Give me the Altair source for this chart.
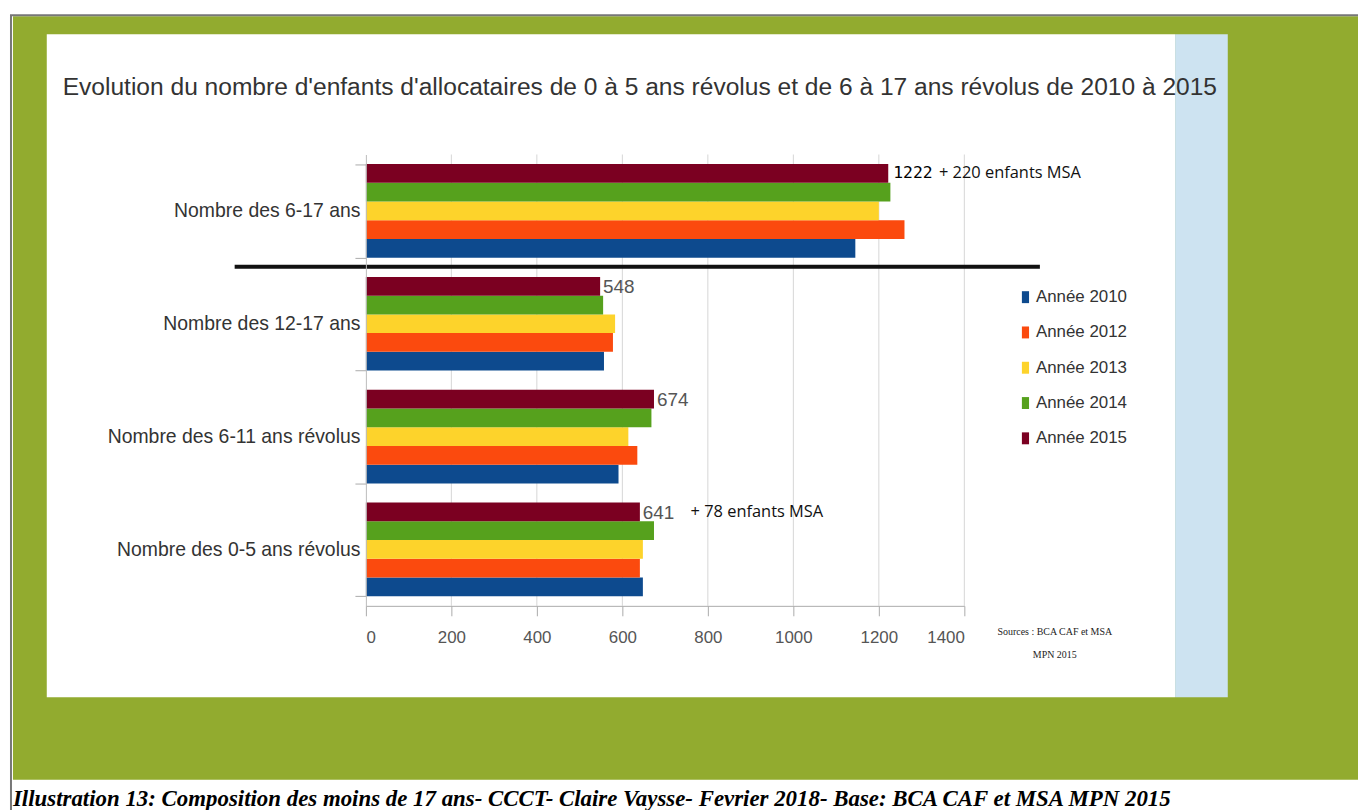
import altair as alt
import pandas as pd

# ---------------- data ----------------
groups = ["Nombre des 6-17 ans", "Nombre des 12-17 ans",
          "Nombre des 6-11 ans révolus", "Nombre des 0-5 ans révolus"]
years = ["Année 2010", "Année 2012", "Année 2013", "Année 2014", "Année 2015"]
colors = ["#0d4a8e", "#fb4a0e", "#fdd32b", "#56a11d", "#7b0021"]
v2010 = [1145, 557, 591, 648]
v2012 = [1260, 578, 635, 641]
v2013 = [1200, 583, 614, 648]
v2014 = [1227, 555, 668, 674]
v2015 = [1222, 548, 674, 641]
x_ticks = [0, 200, 400, 600, 800, 1000, 1200, 1400]

label_groups = ["Nombre des 6-17 ans", "Nombre des 12-17 ans",
                "Nombre des 6-11 ans révolus", "Nombre des 0-5 ans révolus"]
label_values = [1222, 548, 674, 641]
label_texts = ["1222", "548", "674", "641"]
label_mono = [True, False, False, False]
msa_groups = ["Nombre des 6-17 ans", "Nombre des 0-5 ans révolus"]
msa_values = [1222, 641]
msa_texts = ["+ 220 enfants MSA", "+ 78 enfants MSA"]

title_text = ("Evolution du nombre d'enfants d'allocataires de 0 à 5 ans  révolus "
              "et de 6 à 17 ans révolus de 2010 à 2015")
sources_lines = ["Sources : BCA CAF et MSA", "MPN 2015"]
caption_text = ("Illustration 13: Composition des moins de 17 ans- CCCT- Claire Vaysse- "
                "Fevrier 2018- Base: BCA CAF et MSA MPN 2015")

# ---------------- tables ----------------
series = [v2010, v2012, v2013, v2014, v2015]
rows = []
for yi, yname in enumerate(years):
    for gi, g in enumerate(groups):
        rows.append({"group": g, "year": yname, "value": series[yi][gi]})
df = pd.DataFrame(rows)
lab = pd.DataFrame({"group": label_groups, "year": "Année 2015",
                    "value": label_values, "text": label_texts, "mono": label_mono})
msa = pd.DataFrame({"group": msa_groups, "year": "Année 2015",
                    "value": msa_values, "text": msa_texts})
grid = pd.DataFrame({"value": x_ticks[1:]})
one = pd.DataFrame({"k": [0]})

# ---------------- layout ----------------
W, H = 602, 454
OX, OY = 368, 153  # plot origin in page pixels


def px(x):
    return x - OX


def py(y):
    return y - OY


FONT = "Liberation Sans"

xenc = alt.X("value:Q", title=None,
             scale=alt.Scale(domain=[0, 1400], nice=False),
             axis=alt.Axis(values=x_ticks, format="d", grid=False,
                           domainColor="#aaaaaa", tickColor="#aaaaaa", tickSize=10,
                           labelFontSize=17, labelFont=FONT, labelColor="#555555",
                           labelPadding=14, zindex=1))
yenc = alt.Y("group:N", sort=groups, title=None,
             scale=alt.Scale(paddingInner=0.17, paddingOuter=0.085),
             axis=alt.Axis(tickBand="extent", domainColor="#bbbbbb",
                           tickColor="#aaaaaa", tickSize=11, labelPadding=-5,
                           labelFontSize=19.5, labelFont=FONT, labelColor="#333333",
                           labelLimit=400, zindex=1))
yoff = alt.YOffset("year:N", sort=list(reversed(years)),
                   scale=alt.Scale(paddingInner=0, paddingOuter=0))

green = alt.Chart(one).mark_rect(color="#92ab2f").encode(
    x=alt.value(px(13)), x2=alt.value(px(1366)),
    y=alt.value(py(14)), y2=alt.value(py(782)))
border = alt.Chart(one).mark_rect(fillOpacity=0, stroke="#777777", strokeWidth=2).encode(
    x=alt.value(px(11)), x2=alt.value(px(1420)),
    y=alt.value(py(13)), y2=alt.value(py(900)))
panel = alt.Chart(one).mark_rect(color="#ffffff").encode(
    x=alt.value(px(47)), x2=alt.value(px(1182)),
    y=alt.value(py(32)), y2=alt.value(py(699)))
strip = alt.Chart(one).mark_rect(color="#cde3f1").encode(
    x=alt.value(px(1182)), x2=alt.value(px(1235)),
    y=alt.value(py(32)), y2=alt.value(py(699)))

gridlines = alt.Chart(grid).mark_rule(color="#d6d6d6", strokeWidth=1).encode(
    x=xenc, y=alt.value(0), y2=alt.value(H))

bars = alt.Chart(df).mark_bar().encode(
    x=xenc, y=yenc, yOffset=yoff,
    color=alt.Color("year:N",
                    scale=alt.Scale(domain=years, range=colors),
                    legend=alt.Legend(orient="none", legendX=655, legendY=135,
                                      title=None,
                                      symbolType="M-0.6,-1H0.6V1H-0.6Z",
                                      symbolSize=144, symbolStrokeWidth=0,
                                      labelFontSize=17, labelFont=FONT,
                                      labelColor="#333333", rowPadding=17.5,
                                      labelOffset=2, zindex=1)))

separator = alt.Chart(one).mark_rule(color="#111111", strokeWidth=4).encode(
    x=alt.value(px(236)), x2=alt.value(px(1046)), y=alt.value(py(266)))

lab_sans = alt.Chart(lab).transform_filter("!datum.mono").mark_text(
    align="left", baseline="middle", dx=3, dy=1, font=FONT, fontSize=19,
    color="#555555").encode(x=xenc, y=yenc, yOffset=yoff, text="text:N")
lab_mono = alt.Chart(lab).transform_filter("datum.mono").mark_text(
    align="left", baseline="middle", dx=5, font="DejaVu Sans Mono", fontSize=16.5,
    color="#000000").encode(x=xenc, y=yenc, yOffset=yoff, text="text:N")
lab_msa = alt.Chart(msa).mark_text(
    align="left", baseline="middle", dx=51, font="Open Sans", fontSize=16.5,
    color="#111111").encode(x=xenc, y=yenc, yOffset=yoff, text="text:N")

sources = alt.Chart(pd.DataFrame({"t": ["\n".join(sources_lines)]})).mark_text(
    align="center", baseline="middle", font="Liberation Serif", fontSize=10,
    color="#222222", lineBreak="\n", lineHeight=23).encode(
    x=alt.value(px(1061)), y=alt.value(py(633)), text="t:N")

caption = alt.Chart(pd.DataFrame({"t": [caption_text]})).mark_text(
    align="left", baseline="alphabetic", font="Liberation Serif", fontSize=23,
    fontStyle="italic", fontWeight="bold", color="#000000").encode(
    x=alt.value(px(13)), y=alt.value(py(808)), text="t:N")

chart = alt.layer(
    green, border, panel, strip, gridlines, bars, separator,
    lab_sans, lab_mono, lab_msa, sources, caption
).properties(
    width=W, height=H,
    title=alt.Title(title_text, anchor="start", frame="group", dx=px(63),
                    offset=0, dy=106, baseline="alphabetic", fontSize=24.7, font=FONT,
                    fontWeight="normal", color="#333333", zindex=1),
    autosize=alt.AutoSizeParams(type="none"),
    padding={"left": 360, "top": 145, "right": 396, "bottom": 203},
    background="#ffffff",
).configure_view(stroke=None)

chart.save("out.html", embed_options={"renderer": "svg", "actions": False})
